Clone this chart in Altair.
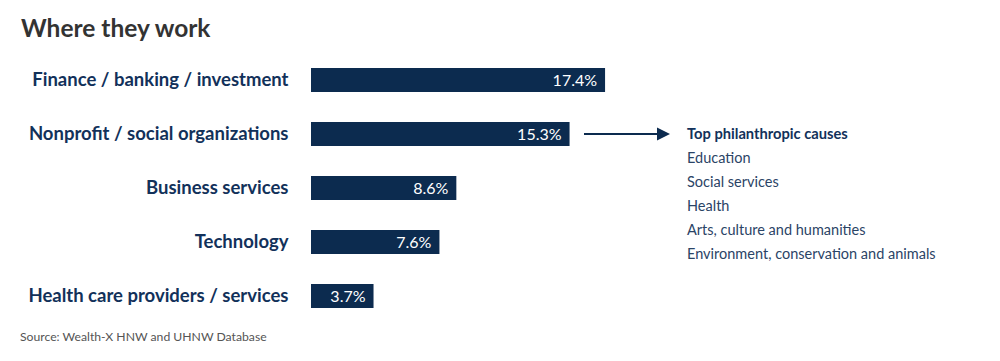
import altair as alt
import pandas as pd

categories = [
    "Finance / banking / investment",
    "Nonprofit / social organizations",
    "Business services",
    "Technology",
    "Health care providers / services",
]
shares = [17.4, 15.3, 8.6, 7.6, 3.7]
share_labels = ["17.4%", "15.3%", "8.6%", "7.6%", "3.7%"]

arrow_category = "Nonprofit / social organizations"
causes_heading = "Top philanthropic causes"
causes = [
    "Education",
    "Social services",
    "Health",
    "Arts, culture and humanities",
    "Environment, conservation and animals",
]
title_text = "Where they work"
source_text = "Source: Wealth-X HNW and UHNW Database"

NAVY = "#0c2b4f"
TEXT_NAVY = "#12315a"
FONT = "Lato"

df = pd.DataFrame({"category": categories, "share": shares, "label": share_labels})

x_scale = alt.Scale(domain=[0, 600 / 16.9], range=[0, 600], nice=False, zero=True)
y_scale = alt.Scale(domain=categories, paddingInner=0.556, paddingOuter=0.278)

base = alt.Chart(df)

bars = base.mark_bar(color=NAVY, cornerRadius=0).encode(
    x=alt.X("share:Q", scale=x_scale, axis=None),
    y=alt.Y(
        "category:N",
        scale=y_scale,
        sort=None,
        axis=alt.Axis(
            title=None,
            domain=False,
            ticks=False,
            grid=False,
            labelFont=FONT,
            labelFontSize=18.5,
            labelFontWeight="bold",
            labelColor=TEXT_NAVY,
            labelPadding=23,
            labelLimit=400,
            labelAlign="right",
        ),
    ),
)

values = base.mark_text(
    color="white", font=FONT, fontSize=16, align="right", baseline="middle", dx=-8, dy=1
).encode(
    x=alt.X("share:Q", scale=x_scale),
    y=alt.Y("category:N", scale=y_scale, sort=None),
    text="label:N",
)

title = alt.Chart(pd.DataFrame({"t": [title_text]})).mark_text(
    font=FONT, fontSize=24.5, fontWeight="bold", color="#333333", align="left", baseline="alphabetic"
).encode(x=alt.value(-290), y=alt.value(-16), text="t:N")

source = alt.Chart(pd.DataFrame({"t": [source_text]})).mark_text(
    font=FONT, fontSize=12.2, color="#555555", align="left", baseline="alphabetic"
).encode(x=alt.value(-291), y=alt.value(288), text="t:N")

arrow_df = pd.DataFrame({"category": [arrow_category]})
arrow_line = alt.Chart(arrow_df).mark_rule(color=NAVY, strokeWidth=2).encode(
    x=alt.value(273), x2=alt.value(353),
    y=alt.Y("category:N", scale=y_scale, sort=None),
)
arrow_head = alt.Chart(arrow_df).mark_point(
    shape="M-1,-1L1,0L-1,1Z", filled=True, color=NAVY, opacity=1, size=169
).encode(
    x=alt.value(352.5),
    y=alt.Y("category:N", scale=y_scale, sort=None),
)

heading = alt.Chart(pd.DataFrame({"t": [causes_heading]})).mark_text(
    font=FONT, fontSize=14.7, fontWeight="bold", color=TEXT_NAVY, align="left", baseline="alphabetic"
).encode(x=alt.value(376), y=alt.value(86), text="t:N")

cause_list = alt.Chart(pd.DataFrame({"t": ["\n".join(causes)]})).mark_text(
    font=FONT, fontSize=14.5, color="#2b4466", align="left", baseline="alphabetic",
    lineBreak="\n", lineHeight=24,
).encode(x=alt.value(376), y=alt.value(110), text="t:N")

chart = alt.layer(
    bars, values, arrow_line, arrow_head, heading, cause_list, title, source
).properties(
    width=600,
    height=270,
    autosize=alt.AutoSizeParams(type="none"),
    padding={"left": 303, "top": 45, "right": 81, "bottom": 30},
    background="white",
).configure_view(strokeWidth=0)

chart.save("out.html", embed_options={"renderer": "svg", "actions": False})
